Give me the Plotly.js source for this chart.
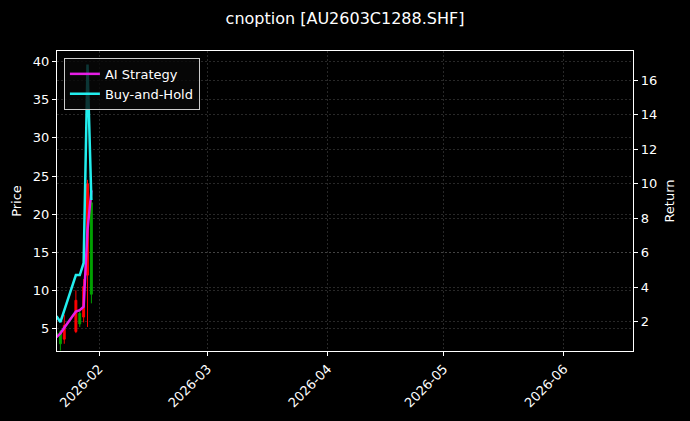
<!DOCTYPE html>
<html>
<head>
<meta charset="utf-8">
<script src="https://cdn.plot.ly/plotly-3.0.1.min.js"></script>
<style>html,body{margin:0;padding:0;background:#000;}#chart{width:690px;height:421px;}</style>
</head>
<body>
<div id="chart"></div>
<script>
// Trading days shown
var dates = ['2026-01-21','2026-01-22','2026-01-23','2026-01-26','2026-01-27','2026-01-28','2026-01-29','2026-01-30'];
// Candles (Price axis)
var openP  = [3.9, 3.0, 5.4, 8.7, 5.6, 10.5, 24.0, 9.5];
var highP  = [4.6, 4.8, 6.8, 10.0, 7.4, 11.5, 24.5, 22.3];
var lowP   = [3.84, 2.1, 3.0, 4.4, 5.2, 5.8, 5.2, 8.3];
var closeP = [4.4, 4.6, 3.6, 4.6, 7.0, 6.5, 12.0, 21.5];
// Cumulative returns (Return axis)
var aiStrategy  = [1.10, 1.32, 1.65, 2.58, 2.67, 2.87, 7.3, 9.6];
var buyAndHold  = [2.32, 1.98, 2.65, 4.70, 4.70, 5.40, 16.9, 9.05];
// Axis ticks
var priceTicks  = [5, 10, 15, 20, 25, 30, 35, 40];
var returnTicks = [2, 4, 6, 8, 10, 12, 14, 16];
var monthTicks  = ['2026-02-01','2026-03-01','2026-04-01','2026-05-01','2026-06-01'];
var monthLabels = ['2026-02','2026-03','2026-04','2026-05','2026-06'];

var traces = [
  {
    type: 'candlestick', x: dates, open: openP, high: highP, low: lowP, close: closeP,
    yaxis: 'y', showlegend: false, hoverinfo: 'skip',
    increasing: {line: {color: '#00a000', width: 1}, fillcolor: '#00a000'},
    decreasing: {line: {color: '#ff0000', width: 1}, fillcolor: '#ff0000'},
    whiskerwidth: 0
  },
  {
    type: 'scatter', mode: 'lines', name: 'AI Strategy', x: dates, y: aiStrategy,
    yaxis: 'y2', line: {color: '#e61ee6', width: 2.5}
  },
  {
    type: 'scatter', mode: 'lines', name: 'Buy-and-Hold', x: dates, y: buyAndHold,
    yaxis: 'y2', line: {color: '#22eeee', width: 2.5}
  }
];

var gridCol = 'rgba(120,120,120,0.55)';
var layout = {
  width: 690, height: 421,
  paper_bgcolor: '#000', plot_bgcolor: '#000',
  font: {family: 'DejaVu Sans, sans-serif', color: '#ffffff', size: 13},
  margin: {l: 57, r: 57, t: 51, b: 70},
  title: {text: 'cnoption [AU2603C1288.SHF]', font: {size: 16, color: '#fff'},
          x: 0.5, xanchor: 'center', y: 0.957, yanchor: 'middle'},
  showlegend: true,
  legend: {x: 0.012, y: 0.977, xanchor: 'left', yanchor: 'top',
           bgcolor: 'rgba(8,8,8,0.8)', bordercolor: '#cccccc', borderwidth: 1,
           font: {size: 13, color: '#fff'}, tracegroupgap: 0},
  xaxis: {
    type: 'date', range: ['2026-01-21 03:00', '2026-06-18 20:00'],
    rangeslider: {visible: false},
    tickmode: 'array', tickvals: monthTicks, ticktext: monthLabels, tickangle: -45,
    showline: true, linecolor: '#fff', linewidth: 1.2, mirror: true,
    ticks: 'outside', ticklen: 4, tickcolor: '#fff',
    showgrid: true, gridcolor: gridCol, griddash: '2px,2px', gridwidth: 0.6,
    zeroline: false, tickfont: {size: 13}
  },
  yaxis: {
    range: [2.05, 41.4], tickmode: 'array', tickvals: priceTicks,
    title: {text: 'Price', font: {size: 13}, standoff: 8},
    showline: true, linecolor: '#fff', linewidth: 1.2, mirror: true,
    ticks: 'outside', ticklen: 4, tickcolor: '#fff',
    showgrid: true, gridcolor: gridCol, griddash: '2px,2px', gridwidth: 0.6,
    zeroline: false, tickfont: {size: 13}
  },
  yaxis2: {
    range: [0.30, 17.68], overlaying: 'y', side: 'right',
    tickmode: 'array', tickvals: returnTicks,
    title: {text: 'Return', font: {size: 13}, standoff: 8},
    showline: true, linecolor: '#fff', linewidth: 1.2,
    ticks: 'outside', ticklen: 4, tickcolor: '#fff',
    showgrid: true, gridcolor: gridCol, griddash: '2px,2px', gridwidth: 0.6,
    zeroline: false, tickfont: {size: 13}
  }
};

Plotly.newPlot('chart', traces, layout, {displayModeBar: false, staticPlot: true});
</script>
</body>
</html>
